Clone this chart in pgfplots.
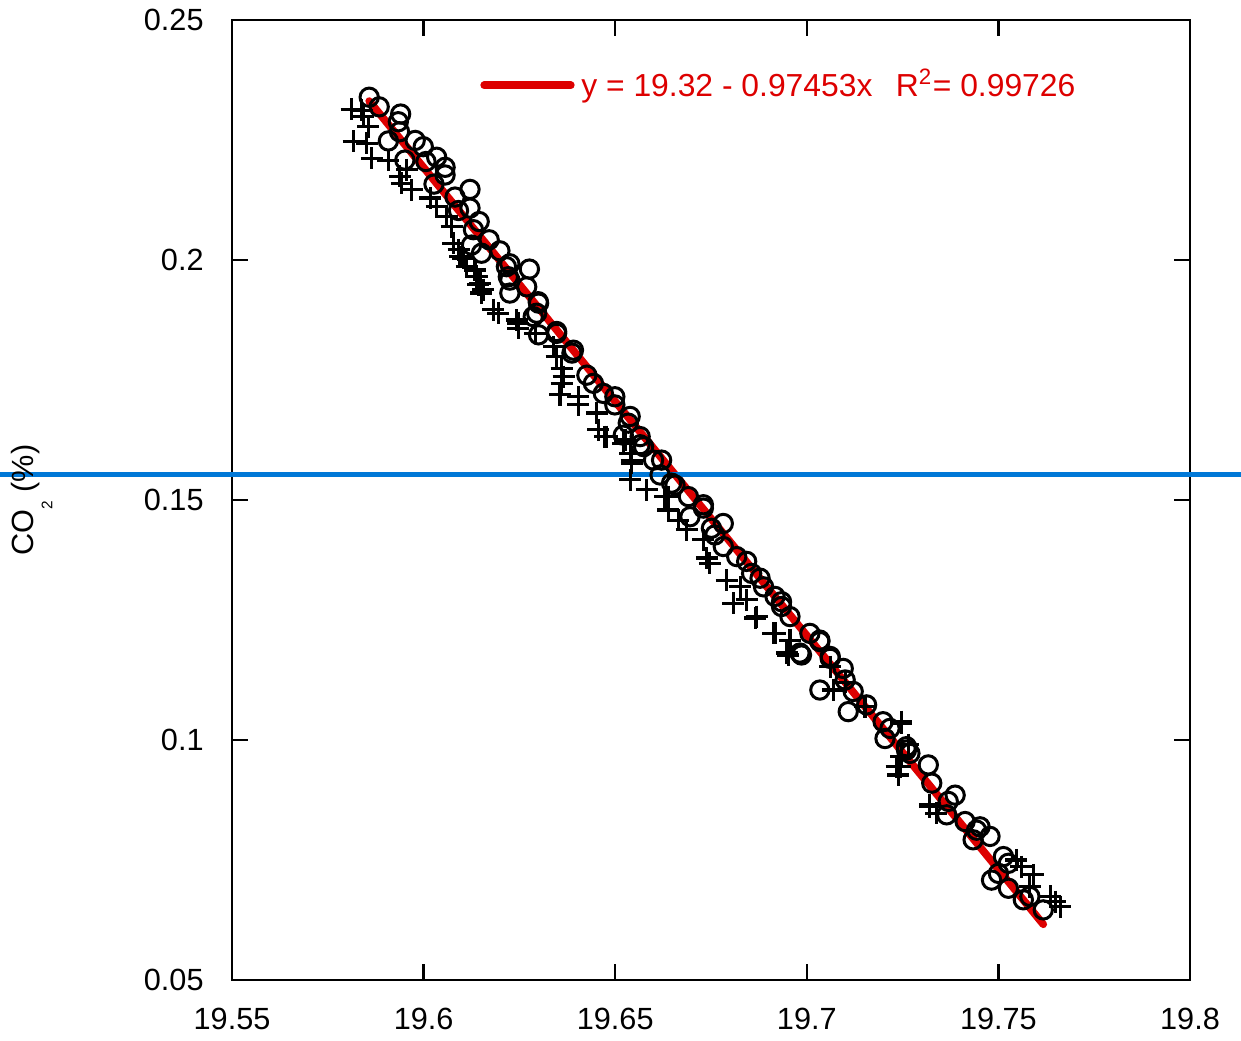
\documentclass[border=0pt]{standalone}
\usepackage{pgfplots}
\pgfplotsset{compat=1.18}
\usepackage{fontspec}
\setmainfont{Liberation Sans}
\definecolor{fitred}{RGB}{221,0,0}
\definecolor{lineblue}{RGB}{0,120,215}
\pgfplotstableread{
x y
19.5858 0.2339
19.5884 0.2319
19.5940 0.2304
19.5934 0.2288
19.5937 0.2267
19.5908 0.2248
19.5978 0.2249
19.5999 0.2236
19.5951 0.2208
19.6034 0.2214
19.6056 0.2193
19.6006 0.2205
19.6056 0.2177
19.6027 0.2158
19.6121 0.2147
19.6082 0.2131
19.6121 0.2108
19.6091 0.2103
19.6145 0.2080
19.6130 0.2063
19.6171 0.2042
19.6125 0.2031
19.6151 0.2014
19.6199 0.2019
19.6225 0.1992
19.6276 0.1981
19.6221 0.1965
19.6269 0.1944
19.6225 0.1931
19.6299 0.1913
19.6295 0.1889
19.6286 0.1882
19.6347 0.1851
19.6216 0.1986
19.6225 0.1958
19.6300 0.1910
19.6300 0.1844
19.6347 0.1847
19.6391 0.1812
19.6387 0.1806
19.6426 0.1760
19.6443 0.1743
19.6469 0.1722
19.6499 0.1715
19.6499 0.1698
19.6539 0.1674
19.6521 0.1635
19.6565 0.1632
19.6574 0.1611
19.6600 0.1583
19.6621 0.1583
19.6647 0.1535
19.6691 0.1507
19.6730 0.1490
19.6534 0.1660
19.6565 0.1615
19.6617 0.1552
19.6656 0.1531
19.6730 0.1483
19.6695 0.1465
19.6782 0.1451
19.6751 0.1441
19.6760 0.1427
19.6782 0.1403
19.6817 0.1382
19.6843 0.1372
19.6856 0.1347
19.6878 0.1337
19.6917 0.1299
19.6934 0.1278
19.6956 0.1257
19.6982 0.1181
19.7008 0.1222
19.7034 0.1208
19.7061 0.1174
19.7095 0.1149
19.6887 0.1319
19.6934 0.1288
19.7034 0.1205
19.6986 0.1177
19.7061 0.1170
19.7100 0.1125
19.7034 0.1104
19.7121 0.1101
19.7156 0.1073
19.7108 0.1059
19.7199 0.1038
19.7217 0.1024
19.7204 0.1003
19.7260 0.0986
19.7269 0.0972
19.7317 0.0948
19.7326 0.0910
19.7387 0.0885
19.7369 0.0872
19.7413 0.0830
19.7452 0.0819
19.7478 0.0799
19.7260 0.0979
19.7365 0.0844
19.7443 0.0812
19.7434 0.0792
19.7513 0.0757
19.7526 0.0743
19.7482 0.0708
19.7500 0.0722
19.7526 0.0691
19.7565 0.0667
19.7582 0.0674
19.7617 0.0646
}\circdata
\pgfplotstableread{
x y
19.5812 0.2314
19.5838 0.2312
19.5843 0.2299
19.5856 0.2278
19.5817 0.2247
19.5851 0.2243
19.5865 0.2212
19.5908 0.2208
19.5938 0.2174
19.5943 0.2160
19.5969 0.2146
19.5956 0.2188
19.6017 0.2129
19.6034 0.2111
19.6060 0.2090
19.6073 0.2069
19.6077 0.2035
19.6091 0.2021
19.6104 0.2004
19.6112 0.1986
19.6139 0.1965
19.6143 0.1948
19.6156 0.1938
19.6182 0.1896
19.6195 0.1889
19.6243 0.1875
19.6247 0.1858
19.6095 0.2007
19.6134 0.1979
19.6147 0.1951
19.6151 0.1931
19.6247 0.1868
19.6291 0.1847
19.6339 0.1819
19.6347 0.1799
19.6360 0.1774
19.6365 0.1757
19.6360 0.1743
19.6356 0.1719
19.6404 0.1715
19.6404 0.1698
19.6452 0.1681
19.6456 0.1646
19.6478 0.1632
19.6521 0.1618
19.6539 0.1597
19.6543 0.1576
19.6539 0.1542
19.6582 0.1521
19.6639 0.1507
19.6473 0.1632
19.6526 0.1625
19.6543 0.1583
19.6630 0.1507
19.6639 0.1479
19.6665 0.1458
19.6686 0.1438
19.6730 0.1417
19.6739 0.1379
19.6747 0.1368
19.6791 0.1333
19.6808 0.1285
19.6843 0.1292
19.6869 0.1257
19.6913 0.1222
19.6948 0.1181
19.6956 0.1208
19.6826 0.1319
19.6865 0.1254
19.6917 0.1222
19.6952 0.1177
19.7061 0.1153
19.7069 0.1104
19.7100 0.1120
19.7152 0.1069
19.7247 0.1035
19.7265 0.0990
19.7247 0.0965
19.7234 0.0944
19.7239 0.0927
19.7321 0.0861
19.7338 0.0847
19.7247 0.1038
19.7243 0.0944
19.7321 0.0865
19.7547 0.0750
19.7560 0.0736
19.7591 0.0719
19.7582 0.0694
19.7635 0.0674
19.7661 0.0653
19.7648 0.0663
}\crossdata
\newcommand{\lblfont}{\fontsize{9.2}{11}\selectfont}
\newcommand{\legfont}{\fontsize{9.55}{11}\selectfont}
\begin{document}
\begin{tikzpicture}
\begin{axis}[
  scale only axis, width=287.4pt, height=288pt,
  xmin=19.55, xmax=19.8, ymin=0.05, ymax=0.25,
  xtick={19.55,19.6,19.65,19.7,19.75,19.8},
  xticklabels={19.55,19.6,19.65,19.7,19.75,19.8},
  ytick={0.05,0.1,0.15,0.2,0.25},
  yticklabels={0.05,0.1,0.15,0.2,0.25},
  tick align=inside, major tick length=4.8pt,
  tick style={black, line width=0.7pt},
  axis line style={black, line width=0.7pt},
  tick label style={font=\lblfont},
  xticklabel style={yshift=-5pt},
  yticklabel style={xshift=-5pt},
  ylabel={CO\raisebox{-5.7pt}{\fontsize{4.6}{5}\selectfont 2} (\%)},
  ylabel style={at={(axis description cs:-0.209,0.5)}, anchor=center, font=\lblfont},
  clip=false,
  legend style={draw=none, fill=none, at={(axis description cs:0.2585,0.932)}, anchor=west, inner sep=0pt, font=\legfont, text=fitred},
  legend image code/.code={\draw[#1] (0pt,0pt) -- (26pt,0pt);},
]
\addplot[fitred, line width=2.3pt, line cap=round] coordinates {(19.5858,0.2331) (19.7617,0.0616)};
\addlegendentry{y = 19.32 - 0.97453x\hspace{7pt}R\textsuperscript{2}= 0.99726}
\addplot[only marks, mark=o, mark size=2.75pt, mark options={line width=0.9pt, black}, forget plot] table {\circdata};
\addplot[only marks, mark=+, mark size=3.3pt, mark options={line width=0.95pt, black}, forget plot] table {\crossdata};
\addplot[lineblue, line width=1.5pt, forget plot] coordinates {(19.4895,0.1554) (19.8133,0.1554)};
\coordinate (bbSW) at (rel axis cs:-0.2422,-0.0635);
\coordinate (bbNE) at (rel axis cs:1.0532,1.0208);
\end{axis}
\pgfresetboundingbox
\path[use as bounding box] (bbSW) rectangle (bbNE);
\end{tikzpicture}
\end{document}
